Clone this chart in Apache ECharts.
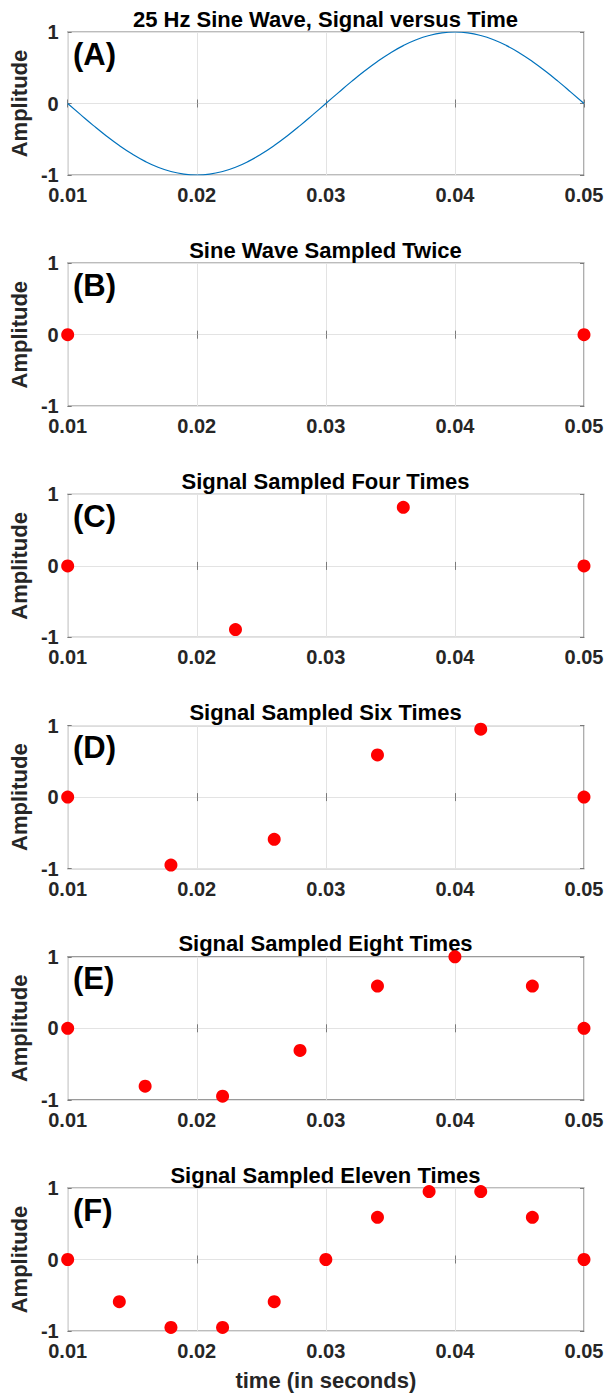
<!DOCTYPE html>
<html>
<head>
<meta charset="utf-8">
<script src="https://cdn.jsdelivr.net/npm/echarts@6/dist/echarts.min.js"></script>
<style>
html,body{margin:0;padding:0;background:#fff;}
#chart{width:608px;height:1393px;}
</style>
</head>
<body>
<div id="chart"></div>
<script>
// ---- data ----
const sineTime = [0.010,0.011,0.012,0.013,0.014,0.015,0.016,0.017,0.018,0.019,0.020,
  0.021,0.022,0.023,0.024,0.025,0.026,0.027,0.028,0.029,0.030,
  0.031,0.032,0.033,0.034,0.035,0.036,0.037,0.038,0.039,0.040,
  0.041,0.042,0.043,0.044,0.045,0.046,0.047,0.048,0.049,0.050];
const sineAmp = [0,-0.156,-0.309,-0.454,-0.588,-0.707,-0.809,-0.891,-0.951,-0.988,-1,
  -0.988,-0.951,-0.891,-0.809,-0.707,-0.588,-0.454,-0.309,-0.156,0,
  0.156,0.309,0.454,0.588,0.707,0.809,0.891,0.951,0.988,1,
  0.988,0.951,0.891,0.809,0.707,0.588,0.454,0.309,0.156,0];

const twiceTime = [0.01, 0.05];
const twiceAmp  = [0, 0];
const fourTime  = [0.01, 0.023, 0.036, 0.05];
const fourAmp   = [0, -0.89, 0.82, 0];
const sixTime   = [0.01, 0.018, 0.026, 0.034, 0.042, 0.05];
const sixAmp    = [0, -0.95, -0.59, 0.59, 0.95, 0];
const eightTime = [0.01, 0.016, 0.022, 0.028, 0.034, 0.040, 0.046, 0.05];
const eightAmp  = [0, -0.81, -0.95, -0.31, 0.59, 1, 0.59, 0];
const elevenTime = [0.01, 0.014, 0.018, 0.022, 0.026, 0.030, 0.034, 0.038, 0.042, 0.046, 0.05];
const elevenAmp  = [0, -0.59, -0.95, -0.95, -0.59, 0, 0.59, 0.95, 0.95, 0.59, 0];

const panelTitles = ['25 Hz Sine Wave, Signal versus Time', 'Sine Wave Sampled Twice',
  'Signal Sampled Four Times', 'Signal Sampled Six Times',
  'Signal Sampled Eight Times', 'Signal Sampled Eleven Times'];
const panelLetters = ['(A)', '(B)', '(C)', '(D)', '(E)', '(F)'];
const xTickMin = 0.01, xTickMax = 0.05, xTickStep = 0.01;
const yTickMin = -1, yTickMax = 1, yTickStep = 1;
const yLabel = 'Amplitude';
const xLabel = 'time (in seconds)';

// ---- layout / style ----
const LEFT = 67, RIGHT = 24, TOP0 = 32, STEP = 231.2, H = 143;
const BOX = '#7a7a7a', GRIDC = '#e3e3e3', TXT = '#262626';
const FONT = '"Liberation Sans", Arial, Helvetica, sans-serif';

const samples = [
  null,
  [twiceTime, twiceAmp],
  [fourTime, fourAmp],
  [sixTime, sixAmp],
  [eightTime, eightAmp],
  [elevenTime, elevenAmp]
];

const grids = [], xAxes = [], yAxes = [], series = [], graphics = [];
const plotCenterX = LEFT + (608 - LEFT - RIGHT) / 2;

for (let i = 0; i < 6; i++) {
  const top = TOP0 + i * STEP;
  grids.push({left: LEFT, right: RIGHT, top: top, height: H, show: true,
    borderColor: BOX, borderWidth: 1.2, backgroundColor: '#fff', containLabel: false});
  // bottom x axis
  xAxes.push({
    type: 'value', gridIndex: i, position: 'bottom',
    min: xTickMin, max: xTickMax, interval: xTickStep,
    axisLine: {show: false},
    axisTick: {show: true, inside: true, length: 4, lineStyle: {color: BOX, width: 1}},
    splitLine: {show: true, lineStyle: {color: GRIDC, width: 1}},
    axisLabel: {show: true, margin: 10, color: TXT, fontSize: 20, lineHeight: 20, fontWeight: 'bold', fontFamily: FONT,
      formatter: v => v.toFixed(2)},
    name: i === 5 ? xLabel : '', nameLocation: 'middle', nameGap: 38,
    nameTextStyle: {color: TXT, fontSize: 22, fontWeight: 'bold', fontFamily: FONT}
  });
  // top x axis (ticks only)
  xAxes.push({
    type: 'value', gridIndex: i, position: 'top',
    min: xTickMin, max: xTickMax, interval: xTickStep,
    axisLine: {show: false}, splitLine: {show: false}, axisLabel: {show: false},
    axisTick: {show: true, inside: true, length: 4, lineStyle: {color: BOX, width: 1}}
  });
  // left y axis
  yAxes.push({
    type: 'value', gridIndex: i, position: 'left',
    min: yTickMin, max: yTickMax, interval: yTickStep,
    axisLine: {show: false},
    axisTick: {show: true, inside: true, length: 4, lineStyle: {color: BOX, width: 1}},
    splitLine: {show: true, lineStyle: {color: GRIDC, width: 1}},
    axisLabel: {show: true, margin: 9, color: TXT, fontSize: 20, lineHeight: 17, fontWeight: 'bold', fontFamily: FONT,
      formatter: v => String(Math.round(v))},
    name: yLabel, nameLocation: 'middle', nameGap: 36,
    nameTextStyle: {color: TXT, fontSize: 22, fontWeight: 'bold', fontFamily: FONT}
  });
  // right y axis (ticks only)
  yAxes.push({
    type: 'value', gridIndex: i, position: 'right',
    min: yTickMin, max: yTickMax, interval: yTickStep,
    axisLine: {show: false}, splitLine: {show: false}, axisLabel: {show: false},
    axisTick: {show: true, inside: true, length: 4, lineStyle: {color: BOX, width: 1}}
  });

  if (i === 0) {
    series.push({
      type: 'line', xAxisIndex: 0, yAxisIndex: 0, smooth: true, symbol: 'none',
      lineStyle: {color: '#0072BD', width: 1.2},
      data: sineTime.map((t, k) => [t, sineAmp[k]]),
      animation: false
    });
  } else {
    const [ts, as] = samples[i];
    series.push({
      type: 'scatter', xAxisIndex: 2 * i, yAxisIndex: 2 * i, clip: false,
      symbol: 'circle', symbolSize: 13,
      itemStyle: {color: '#ff0000', opacity: 1},
      data: ts.map((t, k) => [t, as[k]]),
      animation: false
    });
  }

  graphics.push({
    type: 'text', x: plotCenterX, y: top - 13,
    style: {text: panelTitles[i], textAlign: 'center', textVerticalAlign: 'middle',
      fill: '#000', font: 'bold 22px ' + FONT}
  });
  graphics.push({
    type: 'text', x: 73, y: top + 22,
    style: {text: panelLetters[i], textAlign: 'left', textVerticalAlign: 'middle',
      fill: '#000', font: 'bold 31px ' + FONT}
  });
}

const chart = echarts.init(document.getElementById('chart'), null, {renderer: 'svg', width: 608, height: 1393});
chart.setOption({
  animation: false,
  backgroundColor: '#fff',
  grid: grids,
  xAxis: xAxes,
  yAxis: yAxes,
  series: series,
  graphic: graphics
});
</script>
</body>
</html>
